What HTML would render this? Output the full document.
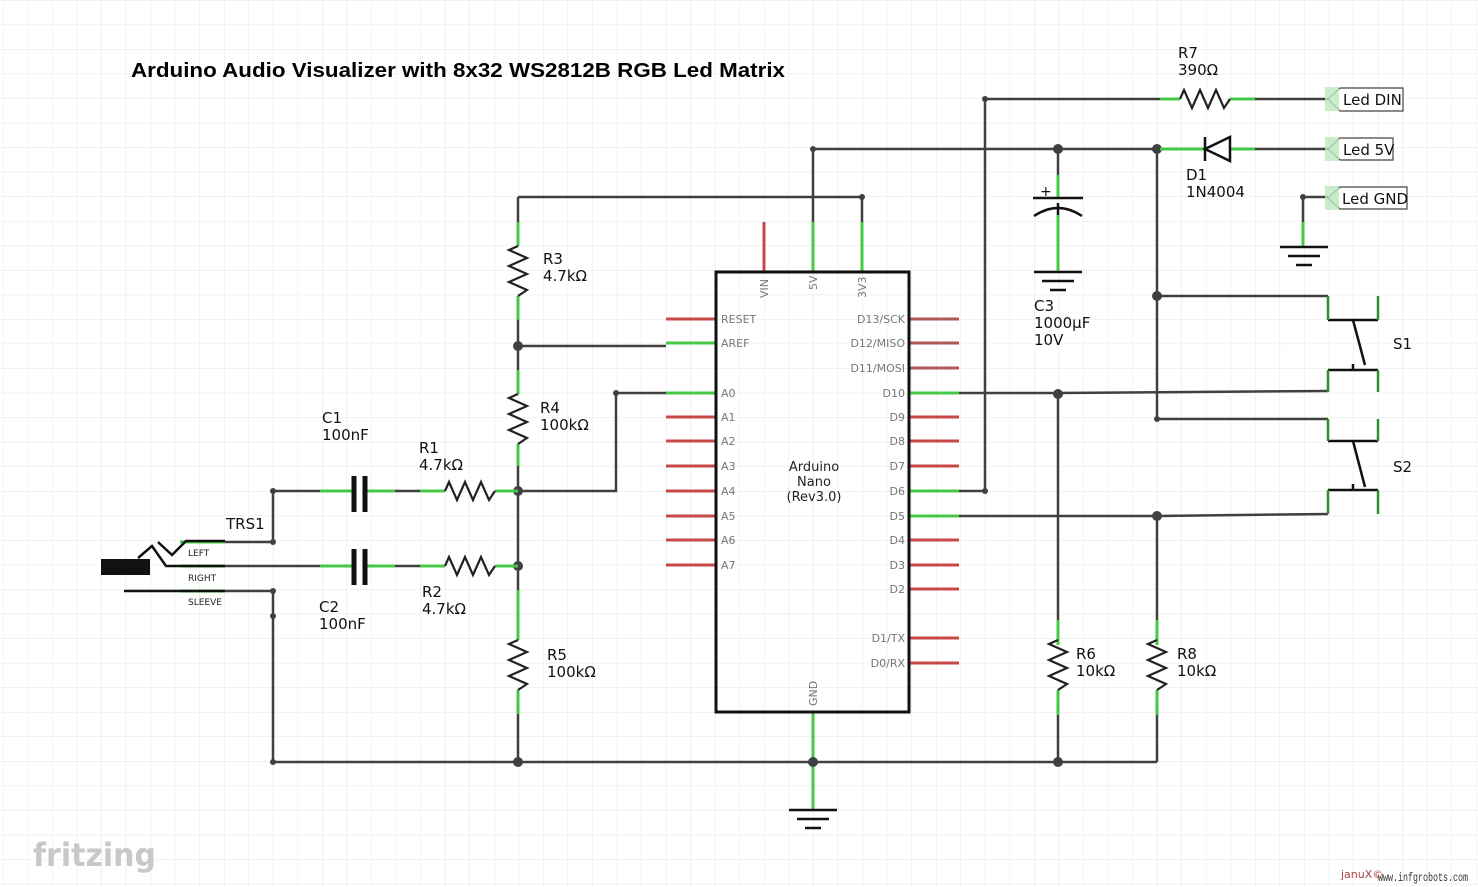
<!DOCTYPE html>
<html><head><meta charset="utf-8"><style>
html,body{margin:0;padding:0;background:#fff}
svg{display:block;font-family:"DejaVu Sans","Liberation Sans",sans-serif}
</style></head><body>
<svg width="1478" height="887" viewBox="0 0 1478 887" xmlns="http://www.w3.org/2000/svg">
<defs>
<pattern id="g" x="3.5" y="0.5" width="24.55" height="24.55" patternUnits="userSpaceOnUse">
<path d="M24.55 0V24.55M0 24.55H24.55" stroke="#e4e4e4" stroke-width="1" fill="none"/>
</pattern>
</defs>
<rect width="1478" height="887" fill="url(#g)"/>

<text x="131" y="77" font-family="Liberation Sans,sans-serif" font-weight="bold" font-size="20" fill="#000" textLength="654" lengthAdjust="spacingAndGlyphs">Arduino Audio Visualizer with 8x32 WS2812B RGB Led Matrix</text>

<g stroke="#404040" stroke-width="2.5" fill="none">
<path d="M518 197H862V222"/>
<path d="M813 222V149H1190"/>
<path d="M1255 149H1328"/>
<path d="M985 491V99H1160"/>
<path d="M1255 99H1328"/>
<path d="M1058 149V175"/>
<path d="M1157 149V419H1328"/>
<path d="M1157 296H1328"/>
<path d="M959 393H1058L1328 391"/>
<path d="M959 516H1157L1328 514"/>
<path d="M959 491H985"/>
<path d="M1058 393V620"/>
<path d="M1157 516V620"/>
<path d="M1058 715V762"/>
<path d="M1157 715V762"/>
<path d="M273 762H1157"/>
<path d="M1303 222V197H1328"/>
<path d="M518 197V222"/>
<path d="M518 320V370"/>
<path d="M518 346H666"/>
<path d="M518 466V590"/>
<path d="M518 491H616V393H666"/>
<path d="M518 690V762"/>
<path d="M273 542V491H320"/>
<path d="M273 591V762"/>
<path d="M395 491H420"/>
<path d="M395 566H420"/>
<path d="M225 566H320"/>
<path d="M225 542H273"/>
<path d="M225 591H273"/>
</g>

<g fill="#404040">
<circle cx="518" cy="346" r="5"/><circle cx="518" cy="491" r="5"/><circle cx="518" cy="566" r="5"/>
<circle cx="518" cy="762" r="5"/><circle cx="1058" cy="762" r="5"/>
<circle cx="1058" cy="149" r="5"/><circle cx="1157" cy="149" r="5"/><circle cx="1157" cy="296" r="5"/>
<circle cx="1058" cy="394" r="5"/><circle cx="1157" cy="516" r="5"/><circle cx="985" cy="491" r="3"/>
<circle cx="985" cy="99" r="3"/><circle cx="813" cy="149" r="3"/><circle cx="616" cy="393" r="3"/>
<circle cx="273" cy="491" r="3"/><circle cx="273" cy="542" r="3"/><circle cx="273" cy="591" r="3"/>
<circle cx="273" cy="616" r="3"/><circle cx="273" cy="762" r="3"/><circle cx="1157" cy="419" r="3"/>
<circle cx="1303" cy="197" r="3"/><circle cx="862" cy="197" r="3"/>
</g>

<g stroke="#46c846" stroke-width="3" fill="none">
<path d="M518 222V246M518 296V320"/>
<path d="M518 370V394M518 444V466"/>
<path d="M518 590V640M518 690V714" />
<path d="M420 491H445M495 491H518M420 566H445M495 566H518"/>
<path d="M320 491H352M366 491H395M320 566H352M366 566H395"/>
<path d="M1058 175V198M1058 215V272"/>
<path d="M1160 99H1180M1230 99H1255"/>
<path d="M1160 149H1205M1230 149H1255"/>
<path d="M1058 620V645M1058 690V715M1157 620V645M1157 690V715"/>
<path d="M1303 222V247"/>
<path d="M813 222V272M862 222V272M813 712V810"/>
<path d="M666 343H716M666 393H716"/>
<path d="M909 393H959M909 491H959M909 516H959"/>
<path d="M180 542H225M180 566H225M180 591H225"/>
</g>
<circle cx="813" cy="762" r="5" fill="#404040"/>

<g stroke="#c84848" stroke-width="3">
<path d="M764 222V272"/>
<path d="M666 319H716"/>
<path d="M666 417H716M666 441H716M666 466H716M666 491H716M666 516H716M666 540H716M666 565H716"/>
<path d="M909 319H959M909 343H959M909 368H959" stroke="#b05858"/>
<path d="M909 417H959M909 441H959M909 466H959M909 540H959M909 565H959M909 589H959M909 638H959M909 663H959"/>
</g>

<g stroke="#222" stroke-width="2.2" fill="none">
<polyline points="518,246 509,250 527,258 509,266 527,274 509,282 527,290 518,296"/>
<polyline points="518,394 509,398 527,406 509,414 527,422 509,430 527,438 518,444"/>
<polyline points="518,640 509,644 527,652 509,660 527,668 509,676 527,684 518,690"/>
<polyline points="1058,640 1049,644 1067,652 1049,660 1067,668 1049,676 1067,684 1058,690"/>
<polyline points="1157,640 1148,644 1166,652 1148,660 1166,668 1148,676 1166,684 1157,690"/>
<polyline points="445,491 449,482 457,500 465,482 473,500 481,482 489,500 495,491"/>
<polyline points="445,566 449,557 457,575 465,557 473,575 481,557 489,575 495,566"/>
<polyline points="1180,99 1184,90 1192,108 1200,90 1208,108 1216,90 1224,108 1230,99"/>
</g>

<g stroke="#111" stroke-width="5">
<path d="M354 476V512M365 476V512M354 549V585M365 549V585"/>
</g>
<g stroke="#111" stroke-width="2.5" fill="none">
<path d="M1033 198H1083"/>
<path d="M1034 216Q1058 200 1082 216"/>
<path d="M1058 203V215"/>
<path d="M1034 272H1082M1042 281H1074M1050 290H1066"/>
<path d="M1280 247H1328M1288 256H1320M1296 265H1312"/>
<path d="M789 810H837M797 819H829M805 828H821"/>
<path d="M1205 137V161M1230 137V161L1205 149Z"/>
<path d="M1328 320H1378M1353 320L1365 365M1328 370H1378M1353 370V364"/>
<path d="M1328 441H1378M1353 441L1365 487M1328 490H1378M1353 490V484"/>
<path d="M1328 296V320M1378 296V320M1328 370V392M1378 370V392M1328 419V441M1378 419V441M1328 490V514M1378 490V514" stroke="#2d8f2d"/>
<path d="M158 542L172 555L186 541H225"/>
<path d="M138 558L152 546L166 566H225"/>
<path d="M124 591H225"/>
</g>
<rect x="101" y="559" width="49" height="16" fill="#111"/>
<text x="1040" y="196" font-size="14" fill="#111">+</text>

<rect x="716" y="272" width="193" height="440" fill="none" stroke="#111" stroke-width="3"/>
<g font-size="11" fill="#777">
<text x="721" y="323">RESET</text><text x="721" y="347">AREF</text><text x="721" y="397">A0</text>
<text x="721" y="421">A1</text><text x="721" y="445">A2</text><text x="721" y="470">A3</text>
<text x="721" y="495">A4</text><text x="721" y="520">A5</text><text x="721" y="544">A6</text><text x="721" y="569">A7</text>
<g text-anchor="end">
<text x="905" y="323">D13/SCK</text><text x="905" y="347">D12/MISO</text><text x="905" y="372">D11/MOSI</text>
<text x="905" y="397">D10</text><text x="905" y="421">D9</text><text x="905" y="445">D8</text><text x="905" y="470">D7</text>
<text x="905" y="495">D6</text><text x="905" y="520">D5</text><text x="905" y="544">D4</text><text x="905" y="569">D3</text>
<text x="905" y="593">D2</text><text x="905" y="642">D1/TX</text><text x="905" y="667">D0/RX</text>
</g>
<text transform="translate(768,298) rotate(-90)">VIN</text>
<text transform="translate(817,290) rotate(-90)">5V</text>
<text transform="translate(866,298) rotate(-90)">3V3</text>
<text transform="translate(817,706) rotate(-90)">GND</text>
</g>
<g font-size="13" fill="#222" text-anchor="middle">
<text x="814" y="471">Arduino</text><text x="814" y="486">Nano</text><text x="814" y="501">(Rev3.0)</text>
</g>

<g font-size="15" fill="#111">
<text x="543" y="264">R3</text><text x="543" y="281">4.7kΩ</text>
<text x="540" y="413">R4</text><text x="540" y="430">100kΩ</text>
<text x="547" y="660">R5</text><text x="547" y="677">100kΩ</text>
<text x="322" y="423">C1</text><text x="322" y="440">100nF</text>
<text x="419" y="453">R1</text><text x="419" y="470">4.7kΩ</text>
<text x="319" y="612">C2</text><text x="319" y="629">100nF</text>
<text x="422" y="597">R2</text><text x="422" y="614">4.7kΩ</text>
<text x="226" y="529">TRS1</text>
<text x="1178" y="58">R7</text><text x="1178" y="75">390Ω</text>
<text x="1186" y="180">D1</text><text x="1186" y="197">1N4004</text>
<text x="1034" y="311">C3</text><text x="1034" y="328">1000µF</text><text x="1034" y="345">10V</text>
<text x="1076" y="659">R6</text><text x="1076" y="676">10kΩ</text>
<text x="1177" y="659">R8</text><text x="1177" y="676">10kΩ</text>
<text x="1393" y="349">S1</text><text x="1393" y="472">S2</text>
</g>
<g font-size="9" fill="#222">
<text x="188" y="556">LEFT</text><text x="188" y="581">RIGHT</text><text x="188" y="605">SLEEVE</text>
</g>

<g fill="#fff" stroke="#444" stroke-width="1.2">
<path d="M1328 99L1340 88H1403V111H1340Z"/>
<path d="M1328 149L1340 138H1393V160H1340Z"/>
<path d="M1328 198L1340 187H1407V209H1340Z"/>
</g>
<g fill="#bfe8bf" opacity="0.8">
<rect x="1325" y="87" width="14" height="24"/><rect x="1325" y="137" width="14" height="24"/><rect x="1325" y="186" width="14" height="24"/>
</g>
<g font-size="15" fill="#111">
<text x="1343" y="105">Led DIN</text><text x="1343" y="155">Led 5V</text><text x="1342" y="204">Led GND</text>
</g>

<text x="33" y="866" font-size="32" font-family="DejaVu Sans,sans-serif" font-weight="bold" fill="#c8c8c8" textLength="123" lengthAdjust="spacingAndGlyphs">fritzing</text>
<text x="1341" y="878" font-size="11" fill="#b04040">januX©</text>
<text x="1378" y="881" font-size="12" font-family="Liberation Mono,monospace" fill="#333" textLength="90" lengthAdjust="spacingAndGlyphs">www.infgrobots.com</text>
</svg>
</body></html>
